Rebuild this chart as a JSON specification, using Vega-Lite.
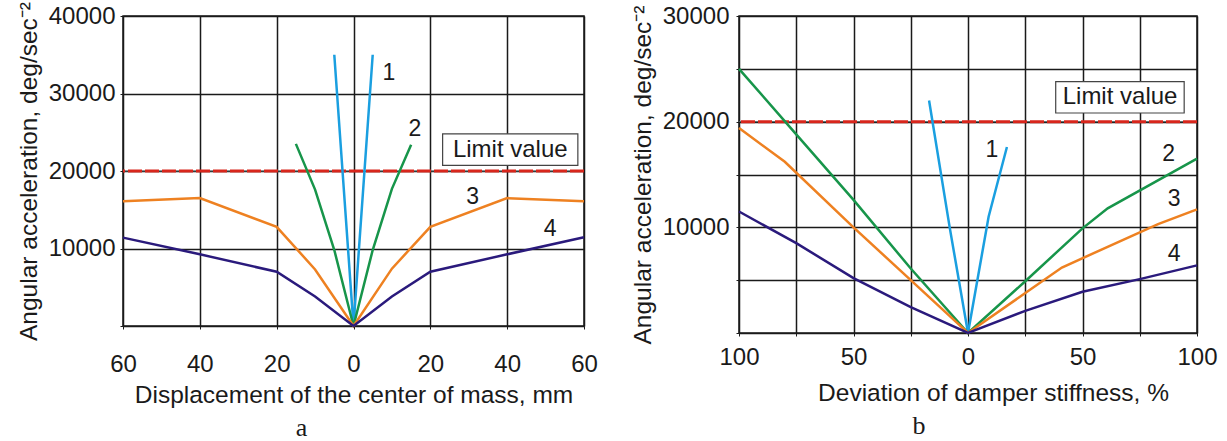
{
  "$schema": "https://vega.github.io/schema/vega-lite/v6.json",
  "background": "white",
  "padding": {"left": 15, "top": 0, "right": 5, "bottom": 0},
  "autosize": {"type": "pad"},
  "bounds": "flush",
  "spacing": 155,
  "config": {
    "font": "Liberation Sans",
    "view": {"stroke": "#1a1a1a", "strokeWidth": 1.5},
    "axis": {
      "domain": false,
      "grid": true,
      "gridColor": "#1a1a1a",
      "gridWidth": 1.5,
      "gridOpacity": 1,
      "tickColor": "#1a1a1a",
      "tickSize": 3,
      "labelFlush": false,
      "labelFont": "Liberation Sans",
      "labelFontSize": 24,
      "labelColor": "#1a1a1a",
      "titleFont": "Liberation Sans",
      "titleFontSize": 24.5,
      "titleFontWeight": "normal",
      "titleColor": "#1a1a1a"
    },
    "legend": {"disable": true}
  },
  "datasets": {
    "a": [
      {"curve": "1", "x": -5, "y": 35000}, {"curve": "1", "x": 0, "y": 0}, {"curve": "1", "x": 5, "y": 35000},
      {"curve": "2", "x": -15, "y": 23500}, {"curve": "2", "x": -10, "y": 17600}, {"curve": "2", "x": -5, "y": 9800}, {"curve": "2", "x": 0, "y": 0}, {"curve": "2", "x": 5, "y": 9800}, {"curve": "2", "x": 10, "y": 17700}, {"curve": "2", "x": 15, "y": 23400},
      {"curve": "3", "x": -60, "y": 16100}, {"curve": "3", "x": -40, "y": 16500}, {"curve": "3", "x": -20, "y": 12800}, {"curve": "3", "x": -10, "y": 7300}, {"curve": "3", "x": 0, "y": 0}, {"curve": "3", "x": 10, "y": 7400}, {"curve": "3", "x": 20, "y": 12800}, {"curve": "3", "x": 40, "y": 16500}, {"curve": "3", "x": 60, "y": 16100},
      {"curve": "4", "x": -60, "y": 11400}, {"curve": "4", "x": -40, "y": 9250}, {"curve": "4", "x": -20, "y": 7000}, {"curve": "4", "x": -10, "y": 3800}, {"curve": "4", "x": 0, "y": 0}, {"curve": "4", "x": 10, "y": 3800}, {"curve": "4", "x": 20, "y": 7000}, {"curve": "4", "x": 40, "y": 9250}, {"curve": "4", "x": 60, "y": 11450}
    ],
    "b": [
      {"curve": "1", "x": -17, "y": 22000}, {"curve": "1", "x": -8, "y": 10000}, {"curve": "1", "x": 0, "y": 0}, {"curve": "1", "x": 9, "y": 11000}, {"curve": "1", "x": 17, "y": 17600},
      {"curve": "2", "x": -100, "y": 25000}, {"curve": "2", "x": -75, "y": 18800}, {"curve": "2", "x": -50, "y": 12600}, {"curve": "2", "x": -25, "y": 6100}, {"curve": "2", "x": 0, "y": 0}, {"curve": "2", "x": 25, "y": 4900}, {"curve": "2", "x": 50, "y": 9900}, {"curve": "2", "x": 61, "y": 11800}, {"curve": "2", "x": 100, "y": 16500},
      {"curve": "3", "x": -100, "y": 19400}, {"curve": "3", "x": -80, "y": 16200}, {"curve": "3", "x": -50, "y": 10000}, {"curve": "3", "x": -25, "y": 5000}, {"curve": "3", "x": 0, "y": 0}, {"curve": "3", "x": 41, "y": 6200}, {"curve": "3", "x": 83, "y": 10300}, {"curve": "3", "x": 100, "y": 11700},
      {"curve": "4", "x": -100, "y": 11500}, {"curve": "4", "x": -75, "y": 8500}, {"curve": "4", "x": -50, "y": 5200}, {"curve": "4", "x": -25, "y": 2450}, {"curve": "4", "x": 0, "y": 0}, {"curve": "4", "x": 25, "y": 2100}, {"curve": "4", "x": 50, "y": 3900}, {"curve": "4", "x": 75, "y": 5100}, {"curve": "4", "x": 100, "y": 6400}
    ],
    "labelsA": [
      {"label": "1", "x": 9.2, "y": 32600}, {"label": "2", "x": 16, "y": 25400}, {"label": "3", "x": 31, "y": 16650}, {"label": "4", "x": 51.2, "y": 12500}
    ],
    "labelsB": [
      {"label": "1", "x": 10.4, "y": 17320}, {"label": "2", "x": 87.6, "y": 16900}, {"label": "3", "x": 90, "y": 12650}, {"label": "4", "x": 90, "y": 7470}
    ],
    "boxA": [{"text": "Limit value", "x1": 23.2, "x2": 58.4, "y1": 20730, "y2": 24800, "xc": 40.8, "yc": 22770}],
    "boxB": [{"text": "Limit value", "x1": 38.3, "x2": 94.4, "y1": 20820, "y2": 23780, "xc": 66.4, "yc": 22300}],
    "limit": [{"limit": 20000}]
  },
  "hconcat": [
    {
      "width": 461,
      "height": 310,
      "title": {"text": "a", "orient": "bottom", "font": "Liberation Serif", "fontSize": 26, "fontWeight": "normal", "color": "#1a1a1a", "dx": -52, "offset": 8},
      "layer": [
        {
          "data": {"name": "limit"},
          "mark": {"type": "rule", "color": "#4d5f5f", "strokeWidth": 1},
          "encoding": {"y": {"field": "limit", "type": "quantitative"}}
        },
        {
          "data": {"name": "limit"},
          "mark": {"type": "rule", "color": "#d8261c", "strokeWidth": 3, "strokeDash": [14, 3]},
          "encoding": {"y": {"field": "limit", "type": "quantitative"}}
        },
        {
          "data": {"name": "a"},
          "mark": {"type": "line", "strokeWidth": 2.5},
          "encoding": {
            "x": {"field": "x", "type": "quantitative", "scale": {"domain": [-60, 60], "nice": false},
              "axis": {"values": [-60, -40, -20, 0, 20, 40, 60], "labelExpr": "'' + abs(datum.value)", "title": "Displacement of the center of mass, mm", "labelPadding": 23, "titlePadding": 7}},
            "y": {"field": "y", "type": "quantitative", "scale": {"domain": [0, 40000], "nice": false},
              "axis": {"values": [0, 10000, 20000, 30000, 40000], "labelExpr": "datum.value > 0 ? '' + datum.value : ''", "title": "Angular acceleration, deg/sec⁻²", "labelPadding": 5, "titlePadding": 7}},
            "color": {"field": "curve", "type": "nominal", "scale": {"domain": ["1", "2", "3", "4"], "range": ["#1a9fe0", "#17954a", "#ee8121", "#2a1a7c"]}}
          }
        },
        {
          "data": {"name": "labelsA"},
          "mark": {"type": "text", "fontSize": 23, "color": "#1a1a1a", "baseline": "middle", "align": "center"},
          "encoding": {"x": {"field": "x", "type": "quantitative"}, "y": {"field": "y", "type": "quantitative"}, "text": {"field": "label"}}
        },
        {
          "data": {"name": "boxA"},
          "mark": {"type": "rect", "fill": "white", "stroke": "#444444", "strokeWidth": 1.2},
          "encoding": {"x": {"field": "x1", "type": "quantitative"}, "x2": {"field": "x2"}, "y": {"field": "y1", "type": "quantitative"}, "y2": {"field": "y2"}}
        },
        {
          "data": {"name": "boxA"},
          "mark": {"type": "text", "fontSize": 24, "color": "#1a1a1a", "baseline": "middle", "align": "center"},
          "encoding": {"x": {"field": "xc", "type": "quantitative"}, "y": {"field": "yc", "type": "quantitative"}, "text": {"field": "text"}}
        }
      ]
    },
    {
      "width": 458,
      "height": 317,
      "title": {"text": "b", "orient": "bottom", "font": "Liberation Serif", "fontSize": 26, "fontWeight": "normal", "color": "#1a1a1a", "dx": -49, "offset": 8},
      "layer": [
        {
          "data": {"name": "limit"},
          "mark": {"type": "rule", "color": "#4d5f5f", "strokeWidth": 1},
          "encoding": {"y": {"field": "limit", "type": "quantitative"}}
        },
        {
          "data": {"name": "limit"},
          "mark": {"type": "rule", "color": "#d8261c", "strokeWidth": 3, "strokeDash": [14, 3]},
          "encoding": {"y": {"field": "limit", "type": "quantitative"}}
        },
        {
          "data": {"name": "b"},
          "mark": {"type": "line", "strokeWidth": 2.5},
          "encoding": {
            "x": {"field": "x", "type": "quantitative", "scale": {"domain": [-100, 100], "nice": false},
              "axis": {"values": [-100, -75, -50, -25, 0, 25, 50, 75, 100], "labelExpr": "abs(datum.value) % 50 == 0 ? '' + abs(datum.value) : ''", "title": "Deviation of damper stiffness, %", "labelPadding": 9, "titlePadding": 12, "titleX": 254}},
            "y": {"field": "y", "type": "quantitative", "scale": {"domain": [0, 30000], "nice": false},
              "axis": {"values": [0, 5000, 10000, 15000, 20000, 25000, 30000], "labelExpr": "datum.value > 0 && datum.value % 10000 == 0 ? '' + datum.value : ''", "title": "Angular acceleration, deg/sec⁻²", "labelPadding": 7, "titlePadding": 7}},
            "color": {"field": "curve", "type": "nominal", "scale": {"domain": ["1", "2", "3", "4"], "range": ["#1a9fe0", "#17954a", "#ee8121", "#2a1a7c"]}}
          }
        },
        {
          "data": {"name": "labelsB"},
          "mark": {"type": "text", "fontSize": 23, "color": "#1a1a1a", "baseline": "middle", "align": "center"},
          "encoding": {"x": {"field": "x", "type": "quantitative"}, "y": {"field": "y", "type": "quantitative"}, "text": {"field": "label"}}
        },
        {
          "data": {"name": "boxB"},
          "mark": {"type": "rect", "fill": "white", "stroke": "#444444", "strokeWidth": 1.2},
          "encoding": {"x": {"field": "x1", "type": "quantitative"}, "x2": {"field": "x2"}, "y": {"field": "y1", "type": "quantitative"}, "y2": {"field": "y2"}}
        },
        {
          "data": {"name": "boxB"},
          "mark": {"type": "text", "fontSize": 24, "color": "#1a1a1a", "baseline": "middle", "align": "center"},
          "encoding": {"x": {"field": "xc", "type": "quantitative"}, "y": {"field": "yc", "type": "quantitative"}, "text": {"field": "text"}}
        }
      ]
    }
  ]
}
